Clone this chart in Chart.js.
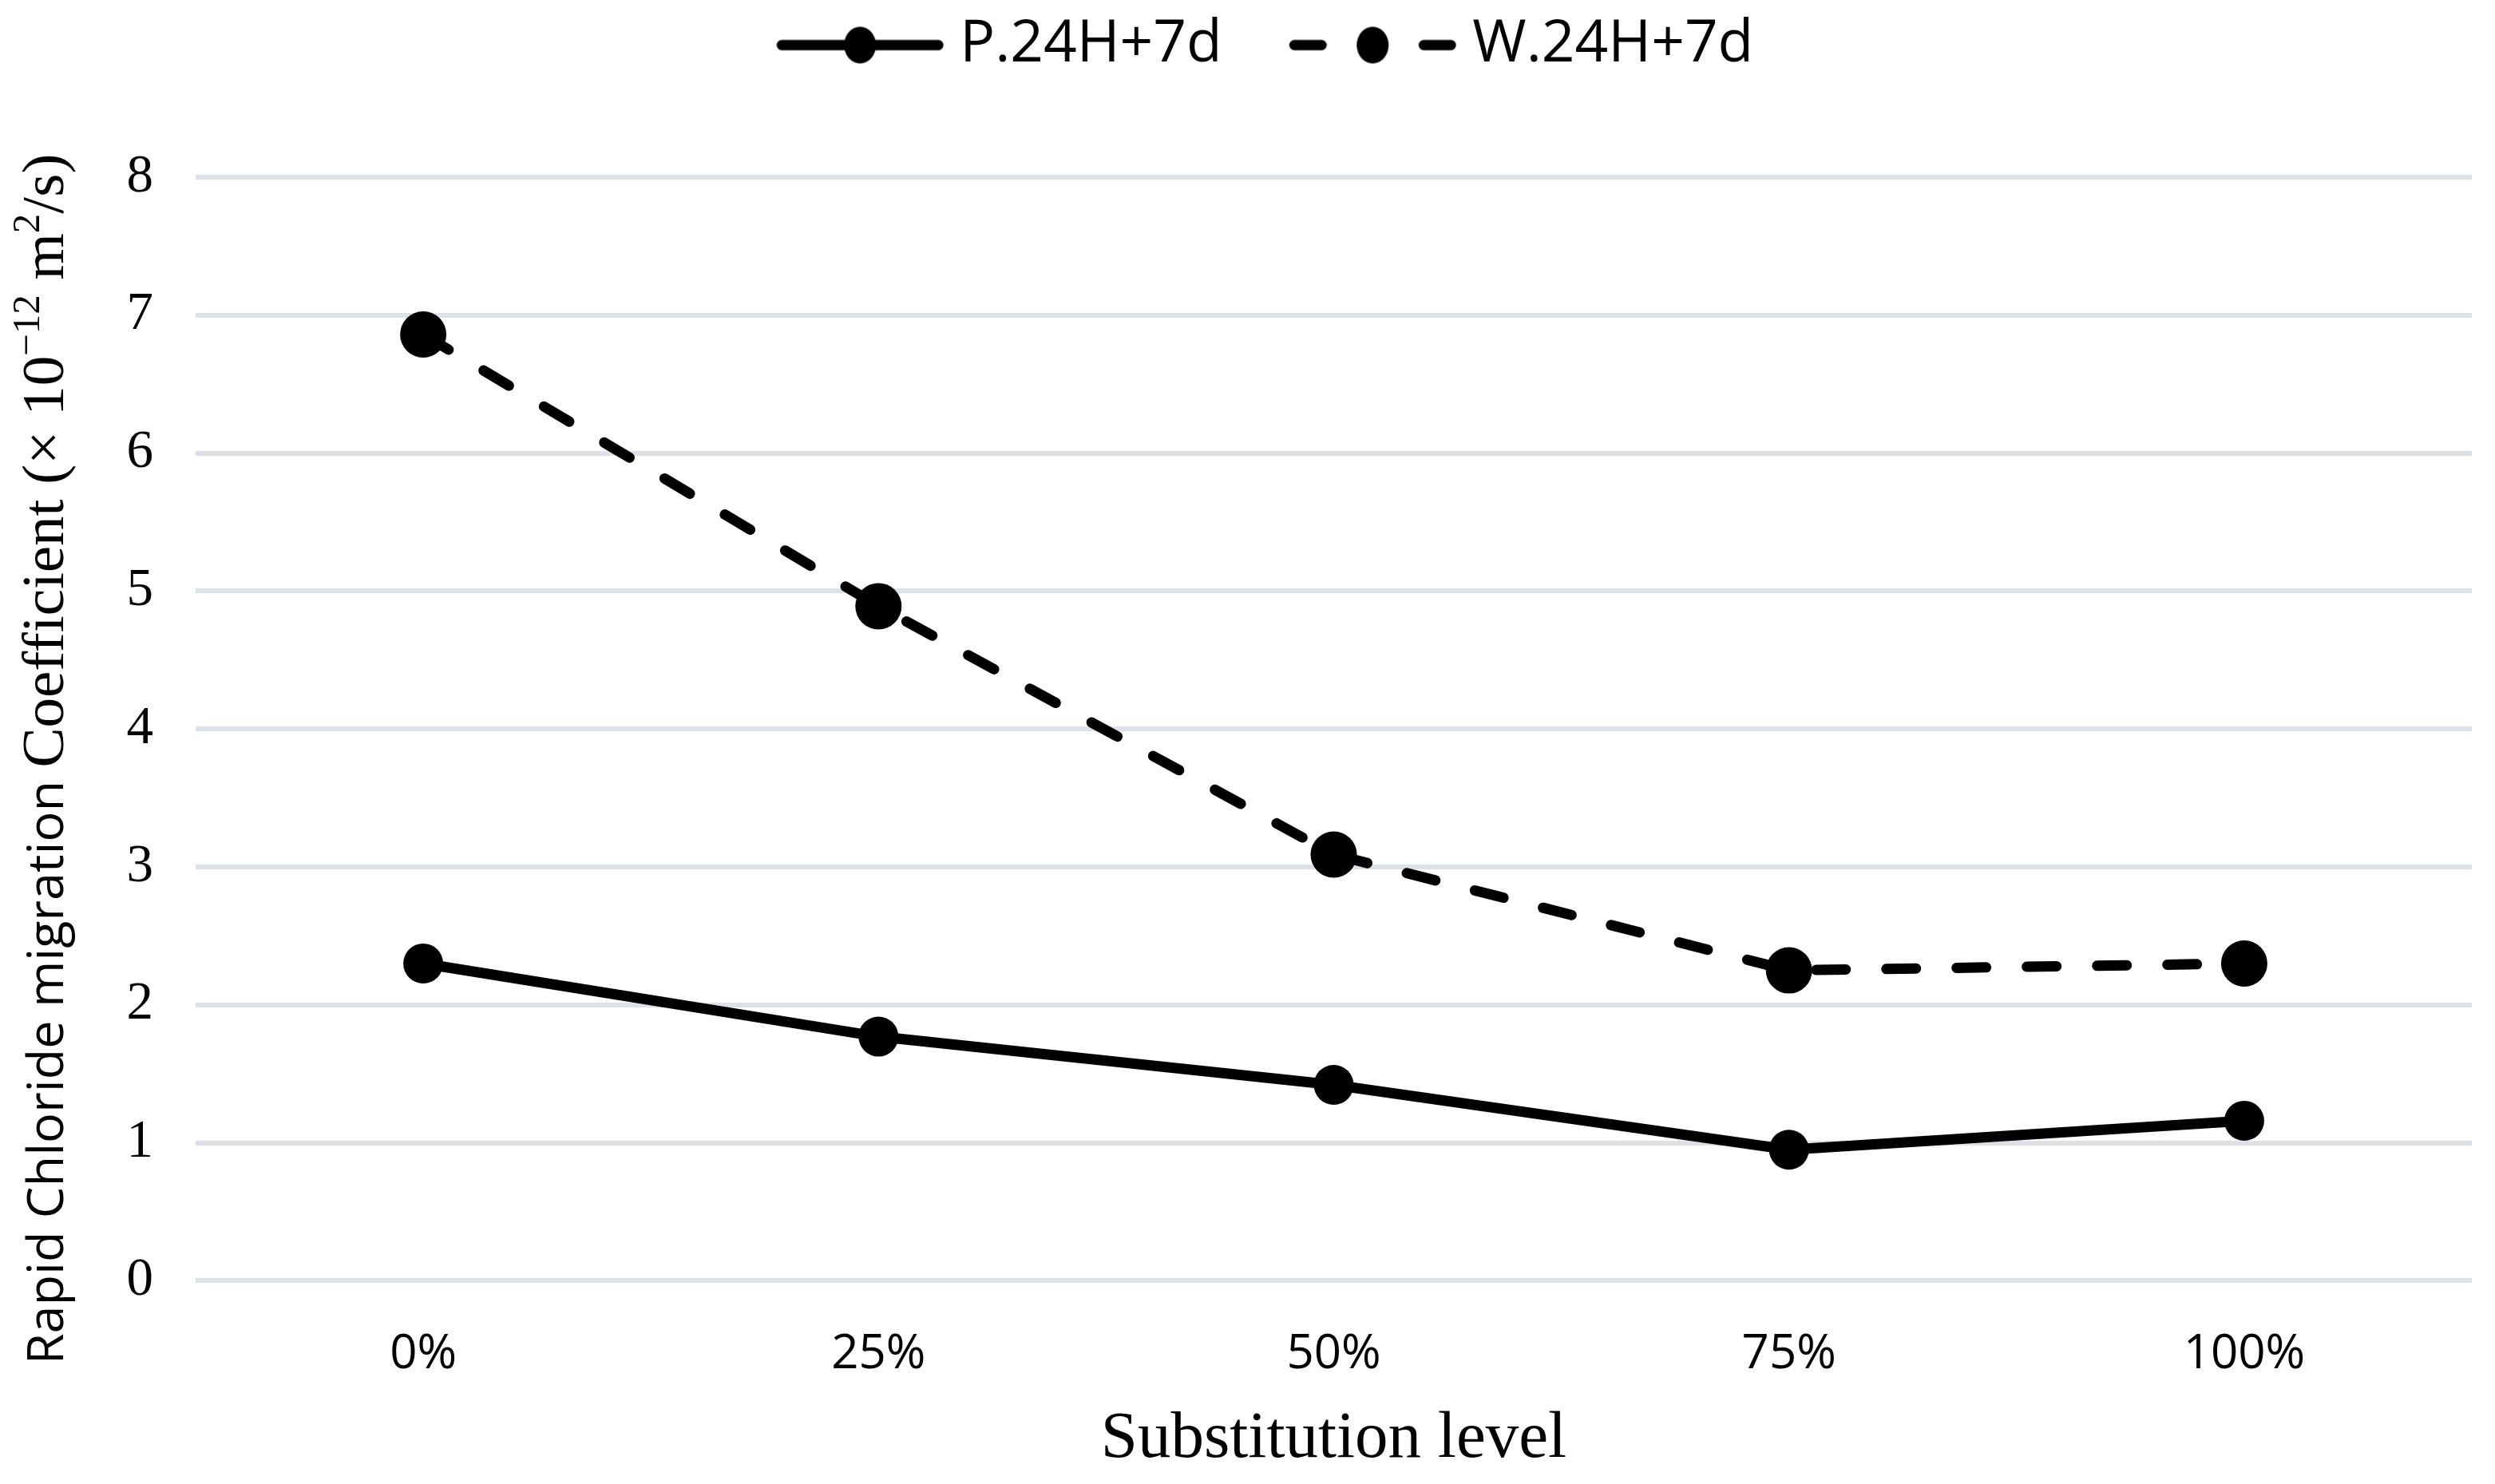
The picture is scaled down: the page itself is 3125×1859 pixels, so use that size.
<!DOCTYPE html>
<html>
<head>
<meta charset="utf-8">
<title>Rapid Chloride migration Coefficient</title>
<script src="https://cdn.jsdelivr.net/npm/chart.js@4.4.1/dist/chart.umd.min.js"></script>
<style>
  html, body { margin: 0; padding: 0; background: #fff; }
  canvas { display: block; }
</style>
</head>
<body>
<canvas id="chart" width="3125" height="1859" style="width:3125px;height:1859px"></canvas>
<script>
"use strict"

// values
const levels = ['0%', '25%', '50%', '75%', '100%']
const seriesNames = ['P.24H+7d', 'W.24H+7d']
const plainValues = [2.30, 1.77, 1.42, 0.95, 1.16]
const waterValues = [6.86, 4.89, 3.09, 2.25, 2.30]
const yTicks = [0, 1, 2, 3, 4, 5, 6, 7, 8]

//legend icon: line with marker in the middle, like excel does it
function legendIcon(dashed){
    const c = document.createElement('canvas')
    c.width = 290
    c.height = 60
    const g = c.getContext('2d')
    g.strokeStyle = '#000'
    g.fillStyle = '#000'
    g.lineWidth = 13
    g.lineCap = 'round'
    g.beginPath()
    if(dashed){
        g.moveTo(87, 30); g.lineTo(121, 30)
        g.moveTo(249, 30); g.lineTo(283, 30)
    } else {
        g.moveTo(87, 30); g.lineTo(283, 30)
    }
    g.stroke()
    g.beginPath()
    g.ellipse(185, 30, 20, 23, 0, 0, Math.PI * 2)
    g.fill()
    return c
}
const icons = [legendIcon(false), legendIcon(true)]

//extra room under the legend so the plot starts lower
const legendSpace = {
    id: 'legendSpace',
    beforeInit(chart){
        const fit = chart.legend.fit
        chart.legend.fit = function(){
            fit.call(this)
            this.height += 119
        }
    }
}

//y title mixes a sans part and a serif part with superscripts
const yTitle = {
    id: 'yTitle',
    afterDraw(chart){
        const ctx = chart.ctx
        const serif = '"Liberation Serif"'
        const parts = [
            ['Rapid Chloride migration ', '63px "Open Sans"', 0],
            ['Coefficient (× 10', '75px ' + serif, 0],
            ['\u221212', '49px ' + serif, -30],
            [' m', '75px ' + serif, 0],
            ['2', '49px ' + serif, -30],
            ['/s)', '75px ' + serif, 0]
        ]
        let total = 0
        for (const p of parts){
            ctx.font = p[1]
            total += ctx.measureText(p[0]).width
        }
        ctx.save()
        ctx.translate(79, 951 + total / 2)
        ctx.rotate(-Math.PI / 2)
        ctx.fillStyle = '#000'
        ctx.textBaseline = 'alphabetic'
        let x = 0
        for (const p of parts){
            ctx.font = p[1]
            ctx.fillText(p[0], x, p[2])
            x += ctx.measureText(p[0]).width
        }
        ctx.restore()
    }
}

const ctx = document.getElementById('chart').getContext('2d')
new Chart(ctx, {
    type: 'line',
    data: {
        labels: levels,
        datasets: [{
            label: seriesNames[0],
            data: plainValues,
            borderColor: '#000',
            backgroundColor: '#000',
            borderWidth: 13,
            pointRadius: 25,
            pointBorderWidth: 0,
            pointBackgroundColor: '#000',
            tension: 0
        }, {
            label: seriesNames[1],
            data: waterValues,
            borderColor: '#000',
            backgroundColor: '#000',
            borderWidth: 13,
            borderDash: [37, 51],
            borderCapStyle: 'round',
            pointRadius: 29,
            pointBorderWidth: 0,
            pointBackgroundColor: '#000',
            tension: 0
        }]
    },
    options: {
        responsive: false,
        devicePixelRatio: 1,
        animation: false,
        layout: {
            padding: {top: 0, right: 20, bottom: 0, left: 0}
        },
        plugins: {
            legend: {
                position: 'top',
                labels: {
                    usePointStyle: true,
                    pointStyleWidth: 257,
                    padding: 20,
                    color: '#000',
                    font: {family: 'Open Sans', size: 73},
                    generateLabels(chart){
                        return chart.data.datasets.map((ds, i) => ({
                            text: ds.label,
                            pointStyle: icons[i],
                            fillStyle: '#000',
                            strokeStyle: '#000',
                            lineWidth: 0,
                            hidden: false,
                            datasetIndex: i
                        }))
                    }
                }
            },
            tooltip: {enabled: false}
        },
        scales: {
            x: {
                offset: true,
                grid: {display: false, drawTicks: false},
                border: {display: false},
                ticks: {
                    padding: 57,
                    color: '#000',
                    font: {family: 'Open Sans', size: 60}
                },
                title: {
                    display: true,
                    text: 'Substitution level',
                    color: '#000',
                    font: {family: 'Liberation Serif', size: 83},
                    padding: {top: -37, bottom: 6}
                }
            },
            y: {
                min: yTicks[0],
                max: yTicks[yTicks.length - 1],
                afterFit(scale){
                    scale.width = 245
                },
                grid: {color: '#dde1e8', lineWidth: 6, drawTicks: false},
                border: {display: false},
                ticks: {
                    stepSize: 1,
                    padding: 53,
                    color: '#000',
                    font: {family: 'Liberation Serif', size: 67}
                }
            }
        }
    },
    plugins: [legendSpace, yTitle]
})
</script>
</body>
</html>
